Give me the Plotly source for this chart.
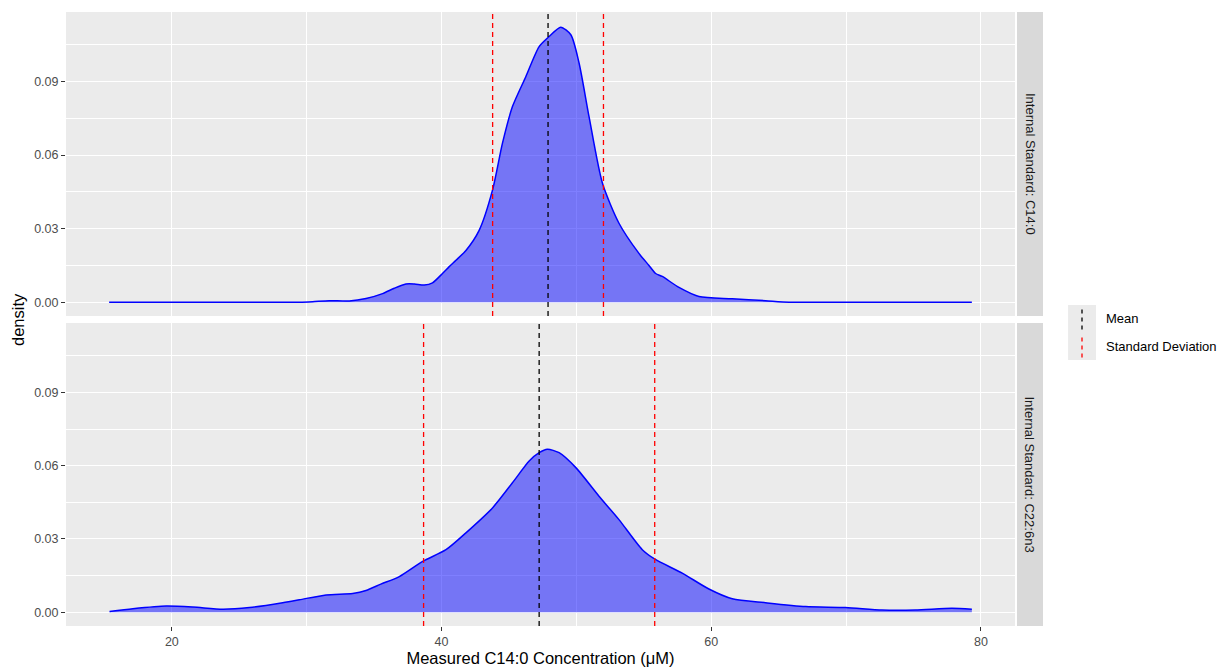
import plotly.graph_objects as go

# ---------------- data ----------------
panel_labels = ["Internal Standard: C14:0", "Internal Standard: C22:6n3"]

top_x = [15.35, 20, 25, 29.5, 30.44, 31.68, 33.16, 34.40, 35.63, 36.5, 37.36, 38.0, 38.72,
         39.33, 40.07, 40.57, 41.07, 41.81, 42.79, 43.78, 44.52, 45.26, 46.25, 47.24, 47.98,
         48.84, 49.59, 50.20, 50.94, 51.93, 53.16, 54.64, 55.37, 55.88, 56.37, 57.61, 59.09,
         61.56, 64.03, 65.76, 70, 75, 79.33]
top_y = [0, 0, 0, 0, 0.0002, 0.0006, 0.0005, 0.0015, 0.0035, 0.0057, 0.0074, 0.0074, 0.0070,
         0.0079, 0.0117, 0.0145, 0.0171, 0.0211, 0.0293, 0.0457, 0.0649, 0.0798, 0.0920, 0.1043,
         0.1084, 0.1122, 0.1091, 0.0976, 0.0757, 0.0486, 0.0322, 0.0199, 0.0151, 0.0117, 0.0105,
         0.0060, 0.0023, 0.0014, 0.0006, 0, 0, 0, 0]

bot_x = [15.38, 17.11, 19.58, 21.56, 23.78, 25.76, 28.22, 29.46, 31.44, 33.41, 34.40, 35.5,
         36.87, 38.6, 40.33, 41.81, 43.78, 45.26, 46.50, 47.24, 47.85, 48.72, 49.96, 51.68,
         53.16, 54.89, 55.83, 57.85, 59.83, 61.56, 64.03, 67.0, 69.96, 72.67, 75.14, 77.85, 79.33]
bot_y = [0.0003, 0.0014, 0.0025, 0.0021, 0.0012, 0.0019, 0.0039, 0.0051, 0.0071, 0.0077, 0.0089,
         0.0115, 0.0146, 0.0208, 0.0256, 0.0325, 0.0427, 0.0530, 0.0619, 0.0653, 0.0667, 0.0653,
         0.0592, 0.0475, 0.0379, 0.0256, 0.0217, 0.0160, 0.0095, 0.0055, 0.0039, 0.0023, 0.0019,
         0.0009, 0.0009, 0.0016, 0.0012]

means = [47.9, 47.24]
sds = [4.11, 8.57]

x_ticks = [20, 40, 60, 80]
y_ticks = [0.0, 0.03, 0.06, 0.09]
y_tick_text = ["0.00", "0.03", "0.06", "0.09"]

legend_labels = ["Mean", "Standard Deviation"]

# ---------------- figure ----------------
FONT = "Liberation Sans, Arial, sans-serif"
BG = "#EBEBEB"
fig = go.Figure()

# top panel -> x2/y2, bottom -> x/y
for xs, ys, xa, ya in [(top_x, top_y, "x2", "y2"), (bot_x, bot_y, "x", "y")]:
    fig.add_trace(go.Scatter(
        x=xs, y=ys, xaxis=xa, yaxis=ya, mode="lines",
        line=dict(color="#0000FF", width=1.5, shape="spline", smoothing=0.7),
        fill="tozeroy", fillcolor="rgba(0,0,255,0.5)",
        showlegend=False, hoverinfo="skip"))

dash = "5px,4px"
for i, (ya, xa) in enumerate([("y2", "x2"), ("y", "x")]):
    m, s = means[i], sds[i]
    for xv, col in [(m - s, "#FF0000"), (m + s, "#FF0000"), (m, "#000000")]:
        fig.add_shape(type="line", xref=xa, yref=ya + " domain",
                      x0=xv, x1=xv, y0=0, y1=1,
                      line=dict(color=col, width=1.3, dash=dash), layer="above")

xr = [12.15, 82.53]
yr = [-0.00564, 0.1184]
common_y = dict(range=yr, tickvals=y_ticks, ticktext=y_tick_text, showgrid=True,
                gridcolor="white", gridwidth=1.4, zeroline=False, ticks="outside",
                ticklen=4, tickcolor="#333333", tickwidth=1, automargin=False,
                tickfont=dict(family=FONT, size=12.5, color="#4D4D4D"),
                minor=dict(tickvals=[0.015, 0.045, 0.075, 0.105], showgrid=True,
                           gridcolor="white", gridwidth=0.7, ticks=""),
                showline=False)
common_x = dict(range=xr, tickvals=x_ticks, showgrid=True, gridcolor="white",
                gridwidth=1.4, zeroline=False, automargin=False,
                minor=dict(tickvals=[10, 30, 50, 70], showgrid=True, gridcolor="white",
                           gridwidth=0.7, ticks=""),
                showline=False)

top_dom = [0.5049, 1.0]
bot_dom = [0.0, 0.4935]

fig.update_layout(
    width=1220, height=668,
    margin=dict(l=66, r=205, t=12, b=42, autoexpand=False),
    paper_bgcolor="white", plot_bgcolor=BG,
    font=dict(family=FONT),
    showlegend=False,
    xaxis=dict(**common_x, anchor="y", domain=[0, 1], ticks="outside", ticklen=4,
               tickcolor="#333333", tickwidth=1,
               tickfont=dict(family=FONT, size=12.5, color="#4D4D4D"),
               title=dict(text="Measured C14:0 Concentration (μM)",
                          font=dict(family=FONT, size=16.5, color="#000000"), standoff=3)),
    xaxis2=dict(**common_x, anchor="y2", domain=[0, 1], matches="x",
                showticklabels=False, ticks=""),
    yaxis=dict(**common_y, domain=bot_dom, anchor="x"),
    yaxis2=dict(**common_y, domain=top_dom, anchor="x2"),
)

# paint gap between panels white
fig.add_shape(type="rect", xref="paper", yref="paper", x0=-0.001, x1=1.0, y0=bot_dom[1],
              y1=top_dom[0], fillcolor="white", line=dict(width=0), layer="below")

# strips
sx0, sx1 = 1.0021, 1.0295
for dom, lab in [(top_dom, panel_labels[0]), (bot_dom, panel_labels[1])]:
    fig.add_shape(type="rect", xref="paper", yref="paper", x0=sx0, x1=sx1,
                  y0=dom[0], y1=dom[1], fillcolor="#D9D9D9", line=dict(width=0))
    fig.add_annotation(xref="paper", yref="paper", x=(sx0 + sx1) / 2,
                       y=(dom[0] + dom[1]) / 2, text=lab, textangle=90, showarrow=False,
                       xanchor="center", yanchor="middle",
                       font=dict(family=FONT, size=13, color="#1A1A1A"))

# y title
fig.add_annotation(xref="paper", yref="paper", x=-0.0506, y=0.5, text="density",
                   textangle=-90, showarrow=False, xanchor="center", yanchor="middle",
                   font=dict(family=FONT, size=16.5, color="#000000"))

# manual legend (vertical dashed keys as in ggplot)
kx0, kx1, kxm = 1.0559, 1.0854, 1.0706
key_y = [(0.5228, 0.4788), (0.4788, 0.4332)]
key_cols = ["#000000", "#FF0000"]
for (ytop, ybot), col, lab in zip(key_y, key_cols, legend_labels):
    fig.add_shape(type="rect", xref="paper", yref="paper", x0=kx0, x1=kx1, y0=ybot,
                  y1=ytop, fillcolor=BG, line=dict(width=0))
    fig.add_shape(type="line", xref="paper", yref="paper", x0=kxm, x1=kxm,
                  y0=ybot + 0.004, y1=ytop - 0.004,
                  line=dict(color=col, width=1.3, dash="4px,4px"))
    fig.add_annotation(xref="paper", yref="paper", x=1.0938, y=(ytop + ybot) / 2,
                       text=lab, showarrow=False, xanchor="left", yanchor="middle",
                       font=dict(family=FONT, size=13, color="#000000"))

fig.write_html("out.html", config={"displayModeBar": False},
               post_script="document.body.style.margin='0';document.body.style.overflow='hidden';")
